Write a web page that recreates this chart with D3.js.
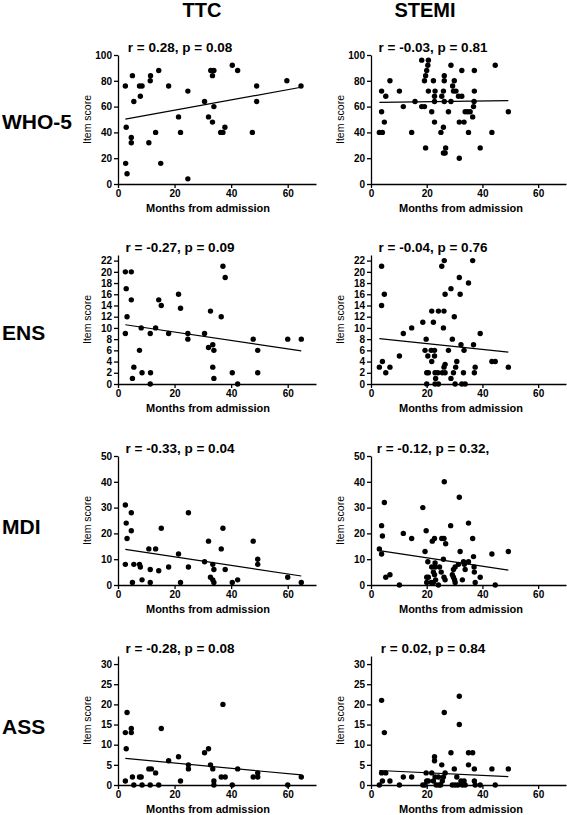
<!DOCTYPE html>
<html><head><meta charset="utf-8">
<script src="https://cdn.jsdelivr.net/npm/d3@7"></script>
<style>body{margin:0;background:#fff}svg{display:block}text{font-family:"Liberation Sans",Arial,sans-serif}</style>
</head><body><svg id="c" width="567" height="815"></svg>
<script>
// ---------- data ----------
const groups = ["TTC", "STEMI"];
const scales = ["WHO-5", "ENS", "MDI", "ASS"];
const xTicks = [0, 20, 40, 60];
const yMax = [100, 23, 50, 32];
const yTickWHO5 = [0, 20, 40, 60, 80, 100];
const yTickENS = [0, 2, 4, 6, 8, 10, 12, 14, 16, 18, 20, 22];
const yTickMDI = [0, 10, 20, 30, 40, 50];
const yTickASS = [0, 5, 10, 15, 20, 25, 30];
const titlesTTC = ["r = 0.28, p = 0.08", "r = -0.27, p = 0.09", "r = -0.33, p = 0.04", "r = -0.28, p = 0.08"];
const titlesSTEMI = ["r = -0.03, p = 0.81", "r = -0.04, p = 0.76", "r = -0.12, p = 0.32,", "r = 0.02, p = 0.84"];
// regression line: [y at min month, y at max month]
const fitTTC = [[50.3, 75], [10.56, 5.9], [13.8, 3.5], [6.6, 2.5]];
const fitSTEMI = [[63.2, 64.7], [8.1, 5.7], [13.3, 5.8], [3.6, 2.1]];

const ttcWHO5 = [[2.6,76],[5.1,84],[5.6,64],[2.9,44],[4.7,36],[4.7,32],[2.7,16],[3.2,8],[7.6,76],[8.5,76],[7.9,68],[11.4,80],[11.5,84],[14.4,88],[10.9,32],[13.3,40],[15.1,16],[17.9,76],[21.4,52],[22.1,40],[24.7,72],[24.7,4],[30.6,64],[32,52],[32.8,88],[33.9,88],[33.4,84],[33.4,48],[33.9,60],[36.3,40],[37.1,40],[37.8,44],[40.4,92],[42.3,88],[47.5,40],[49,76],[49,64],[59.7,80],[64.7,76]];
const ttcENS = [[2.6,20],[4.7,20],[2.9,17],[4.7,15],[3.2,12],[2.6,9],[7.6,6],[5.6,3],[5.1,1],[8.2,10],[8.5,2],[11.4,9],[11.5,2],[11.4,0],[13.3,10],[14.4,15],[15.3,14],[17.9,9],[21.4,16],[22.1,13.5],[24.7,9],[24.7,8],[30.6,9],[32,6.5],[32.7,13],[33.5,7],[33.9,6],[33.5,3],[33.9,1],[36.5,12],[37.1,21],[37.9,19],[40.4,2],[42.3,0],[47.8,8],[49.4,6],[49.4,2],[60,8],[64.8,8]];
const ttcMDI = [[2.6,31],[2.9,24],[3.2,18],[4.7,28],[4.7,21],[2.6,8],[5.1,1],[5.6,8],[7.6,8],[7.9,7],[8.5,2],[10.9,14],[11.4,6],[11.4,1],[13.3,14],[14.4,5.5],[15.3,22],[17.9,7],[21.4,12],[22.1,1],[24.9,28],[24.9,7],[30.6,9],[32,17],[32.7,3],[33.5,2],[33.5,8],[33.9,6],[33.9,1],[36.5,14],[37.1,22],[37.9,6],[40.4,1],[42.3,2],[47.8,17],[49.4,10],[49.4,8],[60,3],[64.8,1]];
const ttcASS = [[2.6,13],[3.2,18],[2.9,9],[2.6,1],[4.7,14],[4.7,13],[5.1,2],[5.6,0],[7.6,2],[8.2,2],[8.5,0],[10.9,4],[11.8,4],[11.4,0],[13.3,3],[14.4,0],[15.3,14],[17.9,6],[21.4,7],[22.1,1],[24.9,5],[24.9,4],[30.6,8],[32,9],[32.7,5],[33.5,4],[33.9,1],[33.9,0],[37.1,20],[36.5,2],[37.9,2],[40.4,0],[42.3,4],[47.8,2],[49.4,3],[49.4,2],[60,0],[64.8,2]];

const stemiWHO5 = [[18.2,96],[20.6,96],[20.4,92],[28.7,92],[44.6,92],[20,88],[32.6,88],[37.1,88],[19.6,84],[26.3,84],[6.8,80],[19.2,80],[22.4,80],[26.3,80],[29.9,80],[29.3,76],[3.8,72],[10.2,72],[20.6,72],[23,72],[26,72],[29.6,72],[30.5,72],[37.1,72],[5.3,68],[22.8,68],[25.4,68],[31.4,68],[32.6,68],[15.8,64],[22.8,64],[26.3,64],[28.7,64],[37,64],[11.6,60],[18.2,60],[19.2,60],[36.8,60],[3.8,56],[21.8,56],[27.8,56],[33.8,56],[34.7,56],[35.6,56],[49.3,56],[36.5,52],[4.8,48],[22.8,48],[31.7,48],[33.4,48],[26,44],[3,40],[4.1,40],[14.6,40],[25.1,40],[35,40],[43.4,40],[19.6,28],[26.8,28],[39.2,28],[26,24],[26.6,24],[31.7,20]];
const stemiENS = [[3.8,21],[4.8,16],[3.8,14],[4.1,4],[3,3],[5.3,2],[6.8,3],[10.2,5],[11.6,9],[14.6,10],[18.6,11],[19.8,8],[19.4,6],[20.4,5],[20,2],[20.6,2],[20,0],[21.8,13],[22.4,11],[21.6,6],[22.8,6],[22.8,5],[21.8,4],[23,2],[24,2],[23.2,1],[23,0],[24.2,0],[25.4,21],[26.3,22],[24.2,13],[26.2,13],[26,10],[26.6,16],[27.8,6],[26.2,3],[26.6,3.5],[25.6,2],[26.6,2],[28.7,17],[29.9,12],[29.2,8],[28.7,1],[29.6,2],[30.4,3],[30.8,4],[30.2,0],[31.7,19],[32,16],[32.3,7],[33.4,6],[33.2,2],[32.6,0],[33.8,0],[35,18],[36.5,22],[36.8,7],[37.4,3],[37.1,2],[39.2,9],[43.4,4],[44.6,4],[49.3,3]];
const stemiMDI = [[3,14],[3.8,23],[4.1,19],[3.8,12],[4.8,32],[5.3,3],[6.8,4],[10.2,0],[11.6,20],[14.6,18],[18.6,30],[19.8,21],[19.4,13],[20.4,9],[20,3],[20.6,3],[20,1],[22,17],[22.8,18],[21.6,1],[22.4,1],[21.8,7],[22.4,5],[22.8,4],[23,7],[23,8.5],[23.2,2],[24.2,0],[25.4,18],[26.2,18],[26.3,40],[26.8,16],[26,10],[26.2,3],[26.6,2],[24.6,7],[25.2,5],[28.6,23],[29.2,4],[29.6,3],[30,2],[30.2,1],[30.2,7],[29.6,6],[31.7,34],[32,13],[32.8,2],[31.4,8],[33.2,9],[33.5,8],[33.8,6],[35,24],[35,9],[36.5,18],[36.8,11],[37,7],[37.1,5],[37.4,1],[39.2,3],[43.4,12],[44.6,0],[49.3,13]];
const stemiASS = [[3.8,21],[4.8,13],[3.8,3],[5.3,3],[4.1,1],[3,0],[6.8,1],[10.2,0],[11.6,2],[14.6,2],[18.6,0],[19.4,0],[20,1],[19.8,3],[20.6,1],[22.8,7],[22.8,6],[21.8,3],[22.4,1],[23,2],[23.4,0],[24.2,2],[24.4,0],[25.4,5],[26.3,18],[26,2],[26.6,3],[25.6,1],[25,0],[28.7,8],[29.9,4],[29.2,0],[30.2,0],[31.2,0],[31.7,22],[31.7,15],[30.8,2],[32.3,1],[32.8,0],[33.4,1],[33.8,0],[35,8],[36.5,8],[35,5],[37.1,4],[37.1,1],[37.4,0],[39.2,0],[43.4,4],[44.6,0],[49.3,4]];

// ---------- assemble ----------
const yTicks = [yTickWHO5, yTickENS, yTickMDI, yTickASS];
const data = [[ttcWHO5, stemiWHO5], [ttcENS, stemiENS], [ttcMDI, stemiMDI], [ttcASS, stemiASS]];
const titles = [titlesTTC, titlesSTEMI];
const fits = [fitTTC, fitSTEMI];

// ---------- layout ----------
const colX = [118, 371], colW = [198, 195];
const rowTop = [55, 255, 456, 656], plotH = 129;
const rowLabelY = [122, 333, 527, 727];
const F = '"Liberation Sans", Arial, sans-serif';

const svg = d3.select("#c");

groups.forEach((g, ci) => {
  svg.append("text").attr("x", ci === 0 ? 202 : 425).attr("y", 17)
    .attr("text-anchor", "middle").attr("font-size", 20).attr("font-weight", "bold").text(g);
});
scales.forEach((s, ri) => {
  svg.append("text").attr("x", 2).attr("y", rowLabelY[ri]).attr("dy", "0.35em")
    .attr("font-size", 21).attr("font-weight", "bold").text(s);
});

scales.forEach((s, ri) => {
  groups.forEach((g, ci) => {
    const x = d3.scaleLinear().domain([0, 70]).range([colX[ci], colX[ci] + colW[ci]]);
    const y = d3.scaleLinear().domain([0, yMax[ri]]).range([rowTop[ri] + plotH, rowTop[ri]]);
    const gp = svg.append("g");

    const ax = gp.append("g").attr("transform", `translate(0,${y(0)})`)
      .call(d3.axisBottom(x).tickValues(xTicks).tickSize(4).tickSizeOuter(0).tickPadding(2));
    const ay = gp.append("g").attr("transform", `translate(${x(0)},0)`)
      .call(d3.axisLeft(y).tickValues(yTicks[ri]).tickSize(4).tickSizeOuter(0).tickPadding(2));
    [ax, ay].forEach(a => {
      a.selectAll("path,line").attr("stroke", "#000").attr("stroke-width", 1.3);
      a.selectAll("text").attr("font-family", F).attr("font-size", 10).attr("font-weight", "bold").attr("fill", "#000");
    });

    // title
    gp.append("text").attr("x", colX[ci] + 62).attr("y", rowTop[ri] - 3.5)
      .attr("text-anchor", "middle").attr("font-size", 13.5).attr("font-weight", "bold").text(titles[ci][ri]);
    // y label
    gp.append("text").attr("transform", `translate(${colX[ci] - 27},${rowTop[ri] + plotH / 2}) rotate(-90)`)
      .attr("text-anchor", "middle").attr("font-size", 10.5).text("Item score");
    // x label
    gp.append("text").attr("x", colX[ci] + 90).attr("y", y(0) + 28)
      .attr("text-anchor", "middle").attr("font-size", 11).attr("font-weight", "bold").text("Months from admission");

    const pts = data[ri][ci];
    const ext = d3.extent(pts, d => d[0]);
    const f = fits[ci][ri];
    gp.append("line").attr("x1", x(ext[0])).attr("y1", y(f[0])).attr("x2", x(ext[1])).attr("y2", y(f[1]))
      .attr("stroke", "#000").attr("stroke-width", 1.2);
    gp.selectAll("circle").data(pts).join("circle")
      .attr("cx", d => x(d[0])).attr("cy", d => y(d[1])).attr("r", 2.7).attr("fill", "#000");
  });
});
</script></body></html>
